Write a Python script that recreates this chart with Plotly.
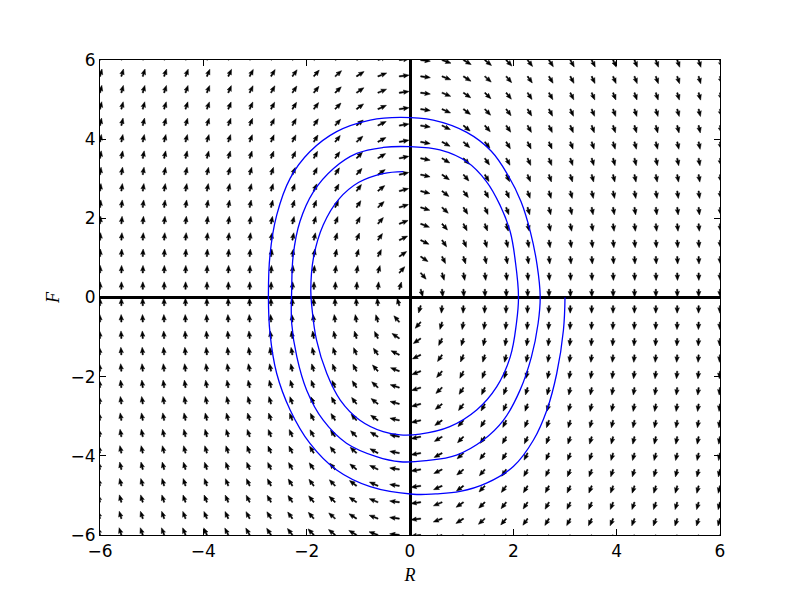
import numpy as np
import plotly.graph_objects as go

# ---- data ----
# linear direction field: dR/dt = coef_RF * F ; dF/dt = coef_FR * R
coef_RF = 1.0
coef_FR = -4.5
grid_n = 30
axis_min, axis_max = -6, 6
tick_vals = [-6, -4, -2, 0, 2, 4, 6]

# spiral trajectory, starting at (3, 0)
traj_R = [3.00, 2.97, 2.84, 2.65, 2.39, 2.00, 1.48, 0.97, 0.50, 0.06,
          -0.77, -1.42, -1.94, -2.32, -2.58, -2.71, -2.74,
          -2.71, -2.58, -2.32, -1.94, -1.42, -0.77, -0.19,
          0.45, 1.10, 1.57, 1.90, 2.15, 2.33, 2.46, 2.52,
          2.48, 2.35, 2.13, 1.81, 1.42, 0.90, 0.32, -0.19,
          -0.65, -1.23, -1.68, -2.00, -2.19, -2.29, -2.29,
          -2.26, -2.13, -1.87, -1.48, -1.03, -0.52, 0.00,
          0.58, 1.10, 1.48, 1.74, 1.94, 2.04, 2.10,
          2.06, 1.94, 1.68, 1.29, 0.77, 0.19, -0.19,
          -0.52, -0.97, -1.35, -1.61, -1.81, -1.90, -1.92,
          -1.87, -1.68, -1.38, -0.99, -0.52, -0.13]
traj_F = [0.00, -0.82, -1.92, -2.84, -3.60, -4.27, -4.69, -4.90, -4.96, -4.97,
          -4.78, -4.36, -3.68, -2.84, -1.92, -0.90, 0.02,
          1.07, 2.08, 3.01, 3.68, 4.19, 4.48, 4.55,
          4.48, 4.17, 3.70, 3.08, 2.42, 1.66, 0.82, 0.02,
          -0.65, -1.50, -2.34, -3.10, -3.60, -3.98, -4.12, -4.15,
          -4.02, -3.68, -3.10, -2.34, -1.50, -0.65, 0.19,
          1.07, 1.92, 2.67, 3.26, 3.64, 3.79, 3.81,
          3.73, 3.43, 2.93, 2.34, 1.66, 0.90, 0.02,
          -0.65, -1.50, -2.25, -2.84, -3.26, -3.45, -3.47,
          -3.39, -3.10, -2.59, -1.92, -1.07, -0.23, 0.19,
          0.99, 1.83, 2.48, 2.91, 3.13, 3.18]

# ---- layout geometry (page body adds an 8 px offset) ----
ml, mr, mt, mb = 92, 80, 52, 60
pw, ph = 620, 475
W, H = ml + pw + mr, mt + ph + mb
sx = pw / (axis_max - axis_min)   # px per data unit (x)
sy = ph / (axis_max - axis_min)   # px per data unit (y)

# ---- quiver arrows (normalised in data units, drawn as filled polygons) ----
g = np.linspace(axis_min, axis_max, grid_n)
RR, FF = np.meshgrid(g, g)
U = coef_RF * FF
V = coef_FR * RR
N = np.hypot(U, V)
N[N == 0] = 1
U, V = U / N, V / N
arrow_len = 0.19
w = 1.3
hl, hal, hwh = 4.2 * w, 3.7 * w, 1.7 * w

ax_, ay_ = [], []
for r, f, u, v in zip(RR.ravel(), FF.ravel(), U.ravel(), V.ravel()):
    dxp, dyp = u * arrow_len * sx, v * arrow_len * sy
    L = np.hypot(dxp, dyp)
    if L == 0:
        continue
    cx, cy = dxp / L, dyp / L
    px, py = -cy, cx
    loc = [(0, -w / 2), (L - hal, -w / 2), (L - hl, -hwh), (L, 0),
           (L - hl, hwh), (L - hal, w / 2), (0, w / 2), (0, -w / 2)]
    for a, p in loc:
        ox = a * cx + p * px
        oy = a * cy + p * py
        ax_.append(r + ox / sx)
        ay_.append(f + oy / sy)
    ax_.append(None)
    ay_.append(None)

fig = go.Figure()
fig.add_trace(go.Scatter(x=ax_, y=ay_, mode="lines", fill="toself",
                         fillcolor="black", line=dict(color="black", width=0.5),
                         hoverinfo="skip", showlegend=False))
fig.add_trace(go.Scatter(x=traj_R, y=traj_F, mode="lines",
                         line=dict(color="#0000ff", width=1.3, shape="spline", smoothing=1.1),
                         showlegend=False))

axis_common = dict(range=[axis_min, axis_max], tickvals=tick_vals, ticks="inside",
                   ticklen=6, tickwidth=1, tickcolor="black", mirror="ticks",
                   showline=True, linecolor="black", linewidth=1.2, showgrid=False,
                   zeroline=True, zerolinecolor="black", zerolinewidth=3,
                   tickfont=dict(family="DejaVu Sans", size=17, color="black"))

fig.update_layout(
    width=W, height=H,
    margin=dict(l=ml, r=mr, t=mt, b=mb),
    plot_bgcolor="white", paper_bgcolor="white",
    xaxis=dict(**axis_common,
               title=dict(text="<i>R</i>", standoff=8,
                          font=dict(family="Liberation Serif", size=18, color="black"))),
    yaxis=dict(**axis_common,
               title=dict(text="<i>F</i>", standoff=6,
                          font=dict(family="Liberation Serif", size=18, color="black"))),
)

fig.write_html("out.html")
